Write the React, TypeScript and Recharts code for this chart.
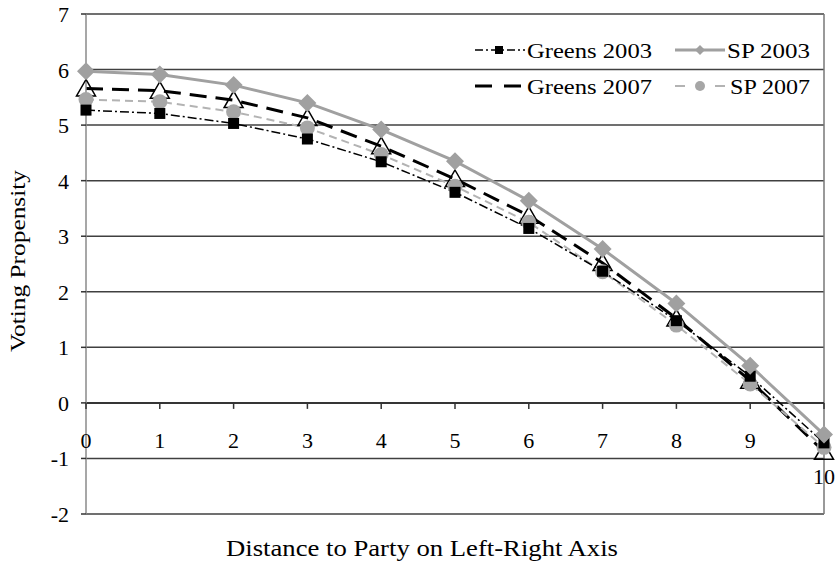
import React from "react";
import { LineChart, Line, XAxis, YAxis, CartesianGrid, ReferenceLine } from "recharts";

// distance to party on left-right axis
const distance = [0, 1, 2, 3, 4, 5, 6, 7, 8, 9, 10];
const greens2003 = [5.27, 5.21, 5.03, 4.75, 4.34, 3.79, 3.14, 2.37, 1.48, 0.48, -0.72];
const sp2003 = [5.97, 5.91, 5.72, 5.4, 4.92, 4.35, 3.64, 2.77, 1.79, 0.67, -0.57];
const greens2007 = [5.66, 5.62, 5.45, 5.13, 4.62, 4.03, 3.37, 2.52, 1.52, 0.4, -0.88];
const sp2007 = [5.46, 5.42, 5.24, 4.95, 4.47, 3.9, 3.25, 2.36, 1.4, 0.34, -0.8];
const yTicks = [-2, -1, 0, 1, 2, 3, 4, 5, 6, 7];

const seriesNames = ["Greens 2003", "SP 2003", "Greens 2007", "SP 2007"];

const data = distance.map((d, i) => ({
  distance: d,
  greens2003: greens2003[i],
  sp2003: sp2003[i],
  greens2007: greens2007[i],
  sp2007: sp2007[i],
}));

const FONT = "'Times New Roman', Tinos, 'Liberation Serif', 'Noto Serif', serif";
const W = 840;
const H = 565;
const margin = { top: 14, right: 16, bottom: 0, left: 0 };
const xAxisH = 51;
const yMin = -2;
const yMax = 7;
const plotH = H - margin.top - margin.bottom - xAxisH;
const zeroY = margin.top + ((yMax - 0) / (yMax - yMin)) * plotH;

const XTick = (props: any) => {
  const { x, payload } = props;
  const last = payload.value === distance[distance.length - 1];
  return (
    <g>
      <line x1={x} x2={x} y1={zeroY} y2={zeroY + 6} stroke="#333" strokeWidth={1.5} />
      <text x={x} y={zeroY + (last ? 81 : 45)} textAnchor="middle" style={{ fontFamily: FONT, fontSize: 22 }} fill="#000">
        {payload.value}
      </text>
    </g>
  );
};

const YTick = (props: any) => {
  const { x, y, payload } = props;
  return (
    <text x={x} y={y + 8} textAnchor="end" style={{ fontFamily: FONT, fontSize: 22 }} fill="#000">
      {payload.value}
    </text>
  );
};

const YTitle = () => (
  <text
    x={25}
    y={261}
    transform="rotate(-90, 25, 261)"
    textAnchor="middle"
    textLength={182}
    lengthAdjust="spacingAndGlyphs"
    style={{ fontFamily: FONT, fontSize: 22 }}
    fill="#000"
  >
    Voting Propensity
  </text>
);

const XTitle = () => (
  <text
    x={226}
    y={556}
    textLength={392}
    lengthAdjust="spacingAndGlyphs"
    style={{ fontFamily: FONT, fontSize: 23 }}
    fill="#000"
  >
    Distance to Party on Left-Right Axis
  </text>
);

const Square = (props: any) => {
  const { cx, cy } = props;
  if (cx == null || cy == null) return null;
  return <rect key={`sq-${cx}`} x={cx - 5.5} y={cy - 5.5} width={11} height={11} fill="#000" />;
};

const Diamond = (props: any) => {
  const { cx, cy } = props;
  if (cx == null || cy == null) return null;
  const s = 9;
  return <polygon key={`dm-${cx}`} points={`${cx},${cy - s} ${cx + s},${cy} ${cx},${cy + s} ${cx - s},${cy}`} fill="#a0a0a0" />;
};

const Triangle = (props: any) => {
  const { cx, cy } = props;
  if (cx == null || cy == null) return null;
  return (
    <polygon
      key={`tr-${cx}`}
      points={`${cx},${cy - 9} ${cx + 9.5},${cy + 7.5} ${cx - 9.5},${cy + 7.5}`}
      fill="none"
      stroke="#000"
      strokeWidth={1.5}
    />
  );
};

const Circle = (props: any) => {
  const { cx, cy } = props;
  if (cx == null || cy == null) return null;
  return <circle key={`ci-${cx}`} cx={cx} cy={cy} r={7.5} fill="#a6a6a6" />;
};

const LegendBox = () => {
  const textStyle = { fontFamily: FONT, fontSize: 22 };
  return (
    <svg width={360} height={70} style={{ position: "absolute", left: 470, top: 30 }}>
      {/* row 1 */}
      <line x1={5} x2={55} y1={20} y2={20} stroke="#000" strokeWidth={1.5} strokeDasharray="8 3 2 3" />
      <rect x={25} y={16} width={8} height={8} fill="#000" />
      <text x={57} y={28} style={textStyle} textLength={125} lengthAdjust="spacingAndGlyphs" fill="#000">{seriesNames[0]}</text>
      <line x1={205} x2={255} y1={20} y2={20} stroke="#a0a0a0" strokeWidth={3} />
      <polygon points="230,15 235,20 230,25 225,20" fill="#a0a0a0" />
      <text x={257} y={28} style={textStyle} textLength={83} lengthAdjust="spacingAndGlyphs" fill="#000">{seriesNames[1]}</text>
      {/* row 2 */}
      <line x1={5} x2={55} y1={56} y2={56} stroke="#000" strokeWidth={3} strokeDasharray="17 12" />
      <text x={57} y={64} style={textStyle} textLength={125} lengthAdjust="spacingAndGlyphs" fill="#000">{seriesNames[2]}</text>
      <line x1={205} x2={215} y1={56} y2={56} stroke="#b3b3b3" strokeWidth={2} />
      <line x1={245} x2={255} y1={56} y2={56} stroke="#b3b3b3" strokeWidth={2} />
      <circle cx={230} cy={56} r={5} fill="#a6a6a6" />
      <text x={260} y={64} style={textStyle} textLength={80} lengthAdjust="spacingAndGlyphs" fill="#000">{seriesNames[3]}</text>
    </svg>
  );
};

export default function App() {
  return (
    <div style={{ position: "absolute", left: 0, top: 0, width: W, height: H, background: "#fff", fontFamily: FONT }}>
      <LineChart width={W} height={H} data={data} margin={margin}>
        <CartesianGrid horizontal vertical={false} stroke="#404040" strokeWidth={1.5} />
        <XAxis
          dataKey="distance"
          type="number"
          domain={[0, 10]}
          ticks={distance}
          axisLine={false}
          tickLine={false}
          tick={<XTick />}
          height={xAxisH}
          label={<XTitle />}
        />
        <YAxis
          type="number"
          domain={[yMin, yMax]}
          ticks={yTicks}
          width={86}
          axisLine={{ stroke: "#8a8a8a", strokeWidth: 1.5 }}
          tickLine={{ stroke: "#333", strokeWidth: 1.5 }}
          tickSize={5}
          tickMargin={12}
          tick={<YTick />}
          label={<YTitle />}
        />
        <ReferenceLine x={10} stroke="#777" strokeWidth={1.5} />
        <ReferenceLine y={0} stroke="#222" strokeWidth={1.5} />
        <Line
          dataKey="greens2007"
          name={seriesNames[2]}
          stroke="#000"
          strokeWidth={3}
          strokeDasharray="17 9"
          dot={<Triangle />}
          isAnimationActive={false}
        />
        <Line
          dataKey="sp2007"
          name={seriesNames[3]}
          stroke="#b3b3b3"
          strokeWidth={2}
          strokeDasharray="8 5"
          dot={<Circle />}
          isAnimationActive={false}
        />
        <Line
          dataKey="greens2003"
          name={seriesNames[0]}
          stroke="#000"
          strokeWidth={1.5}
          strokeDasharray="9 3 2 3"
          dot={<Square />}
          isAnimationActive={false}
        />
        <Line
          dataKey="sp2003"
          name={seriesNames[1]}
          stroke="#a0a0a0"
          strokeWidth={3}
          dot={<Diamond />}
          isAnimationActive={false}
        />
      </LineChart>
      <LegendBox />
    </div>
  );
}
